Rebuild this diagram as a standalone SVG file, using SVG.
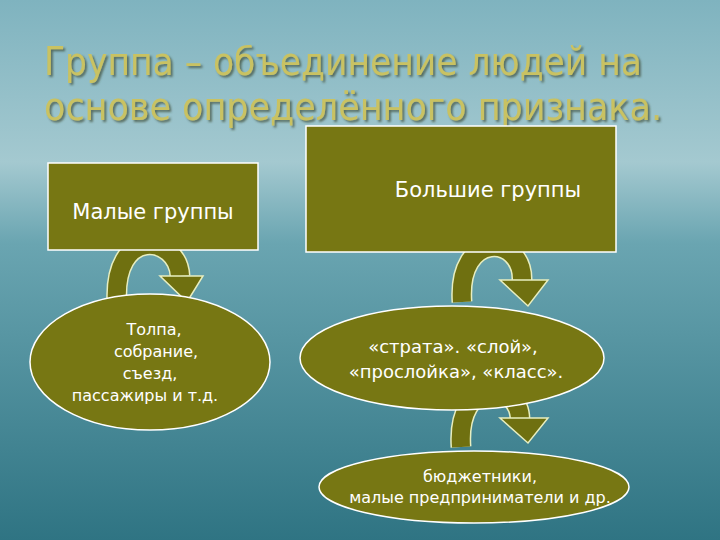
<svg xmlns="http://www.w3.org/2000/svg" width="720" height="540" viewBox="0 0 720 540">
<defs>
<linearGradient id="bg" x1="0" y1="0" x2="0" y2="1">
<stop offset="0" stop-color="#7fb3bf"/><stop offset="0.3" stop-color="#a4c9d0"/><stop offset="0.45" stop-color="#6aa5b1"/><stop offset="1" stop-color="#2f7483"/>
</linearGradient>
<filter id="sh" x="-5%" y="-20%" width="110%" height="140%"><feDropShadow dx="2" dy="2" stdDeviation="0.8" flood-color="#3a4a30" flood-opacity="0.7"/></filter>
<style>
.box{fill:#777713;stroke:#ffffff;stroke-width:1.5}
.t{font-family:"DejaVu Sans","Liberation Sans",sans-serif;fill:#ffffff;text-anchor:middle}
.title{font-family:"DejaVu Sans Condensed","DejaVu Sans",sans-serif;font-size:39px;fill:#c9c262}
.arw{fill:none;stroke:#6f7010;stroke-width:18}
.arwo{fill:none;stroke:#e8eec0;stroke-width:21}
.head{fill:#6f7010;stroke:#e8eec0;stroke-width:1.5}
</style>
</defs>
<rect width="720" height="540" fill="url(#bg)"/>
<g id="title" filter="url(#sh)">
<text class="title" x="44" y="75" textLength="598" lengthAdjust="spacingAndGlyphs">Группа – объединение людей на</text>
<text class="title" x="44" y="120" textLength="618" lengthAdjust="spacingAndGlyphs">основе определённого признака.</text>
</g>
<g id="connectors">
<path class="arwo" d="M117,304 C112,225 178,235 180,276"/>
<path class="arw" d="M117,304 C112,225 178,235 180,276"/>
<polygon class="head" points="160,276 203,276 187,302"/>
<path class="arwo" d="M462,302 C457,230 523,235 522,280"/>
<path class="arw" d="M462,302 C457,230 523,235 522,280"/>
<polygon class="head" points="500,280 548,280 528,306"/>
<path class="arwo" d="M461,447 C456,375 520,380 520,420"/>
<path class="arw" d="M461,447 C456,375 520,380 520,420"/>
<polygon class="head" points="500,418 548,418 528,443"/>
</g>
<g id="small"><rect class="box" x="48" y="163" width="210" height="87"/><text class="t" x="153" y="219" font-size="21">Малые группы</text></g>
<g id="large"><rect class="box" x="306" y="126" width="310" height="126"/><text class="t" x="488" y="197" font-size="21">Большие группы</text></g>
<g id="crowd"><ellipse class="box" cx="150" cy="362" rx="120" ry="68"/>
<text class="t" font-size="16"><tspan x="154" y="335">Толпа,</tspan><tspan x="156" y="357">собрание,</tspan><tspan x="150" y="379">съезд,</tspan><tspan x="145" y="401">пассажиры и т.д.</tspan></text></g>
<g id="strata"><ellipse class="box" cx="452" cy="358" rx="152" ry="52"/>
<text class="t" font-size="18"><tspan x="453" y="353">«страта». «слой»,</tspan><tspan x="456" y="378">«прослойка», «класс».</tspan></text></g>
<g id="budget"><ellipse class="box" cx="474" cy="487" rx="155" ry="36"/>
<text class="t" font-size="16"><tspan x="480" y="482">бюджетники,</tspan><tspan x="480" y="503">малые предприниматели и др.</tspan></text></g>
</svg>
